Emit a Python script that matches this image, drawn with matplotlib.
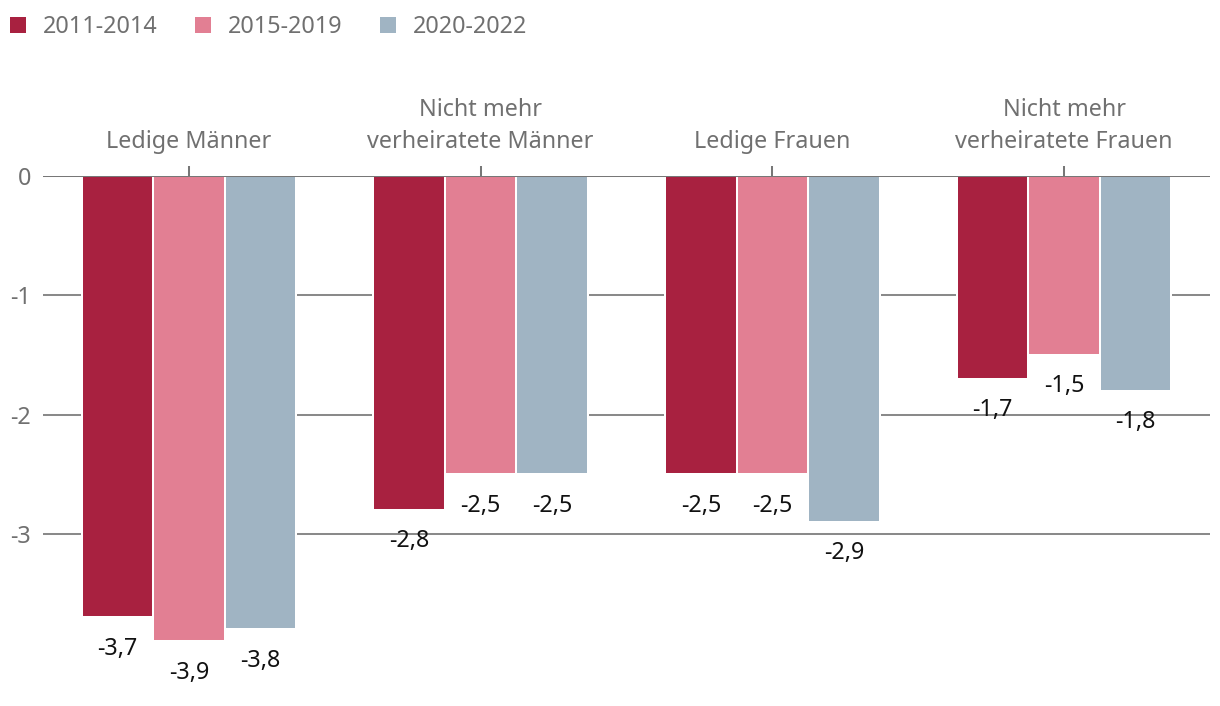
import numpy as np
import matplotlib
matplotlib.use("Agg")
import matplotlib.pyplot as plt
from matplotlib.patches import Patch

plt.rcParams["font.family"] = ["Noto Sans", "DejaVu Sans"]
plt.rcParams["axes.unicode_minus"] = False

# ---- data -----------------------------------------------------------------
categories = ["Ledige Männer", "Nicht mehr\nverheiratete Männer",
              "Ledige Frauen", "Nicht mehr\nverheiratete Frauen"]
periods = ["2011-2014", "2015-2019", "2020-2022"]
v_2011_2014 = [-3.7, -2.8, -2.5, -1.7]
v_2015_2019 = [-3.9, -2.5, -2.5, -1.5]
v_2020_2022 = [-3.8, -2.5, -2.9, -1.8]
series = [v_2011_2014, v_2015_2019, v_2020_2022]
colors = ["#a82140", "#e27f93", "#a0b4c3"]
yticks = [0, -1, -2, -3]

GRAY_TXT = "#707070"
FS = 16.8

# ---- figure -----------------------------------------------------------------
fig = plt.figure(figsize=(12.2, 7.06), dpi=100)
ax = fig.add_axes([43 / 1220, 0.0241, 1167 / 1220, 0.7266])

x = np.arange(len(categories))
w = 0.245
for k, (vals, col) in enumerate(zip(series, colors)):
    xs = x + (k - 1) * w
    ax.bar(xs, vals, width=w, color=col, edgecolor="white", linewidth=1.45,
           zorder=2)
    for xi, v in zip(xs, vals):
        ax.annotate(f"{v:.1f}".replace(".", ","), (xi, v), xytext=(0, -14),
                    textcoords="offset points", ha="center", va="top",
                    fontsize=FS, color="#111111", zorder=4)

for yv in yticks[1:]:
    ax.axhline(yv, color="#8a8a8a", lw=1.45, zorder=1)
ax.axhline(0, color="#777777", lw=1.45, zorder=3)

ax.set_xlim(-0.5, 3.5)
ax.set_ylim(-4.3, 0)
ax.set_yticks(yticks)
ax.set_yticklabels([str(t) for t in yticks])
ax.tick_params(axis="y", length=0, pad=8.6, labelsize=FS, labelcolor=GRAY_TXT)

ax.xaxis.tick_top()
ax.set_xticks(x)
ax.set_xticklabels(categories, linespacing=1.45)
ax.tick_params(axis="x", direction="out", length=7.2, width=1.45,
               color="#777777", pad=8.5, labelsize=FS, labelcolor=GRAY_TXT)
for s in ax.spines.values():
    s.set_visible(False)

handles = [Patch(facecolor=c, edgecolor="none") for c in colors]
leg = fig.legend(handles, periods, loc="center left",
                 bbox_to_anchor=(10 / 1220, 1 - 27 / 706), ncol=3,
                 frameon=False, fontsize=FS, handlelength=0.69,
                 handleheight=0.69, handletextpad=0.72, columnspacing=1.6,
                 borderpad=0, borderaxespad=0)
for t in leg.get_texts():
    t.set_color(GRAY_TXT)

fig.savefig("out.png", dpi=100)
